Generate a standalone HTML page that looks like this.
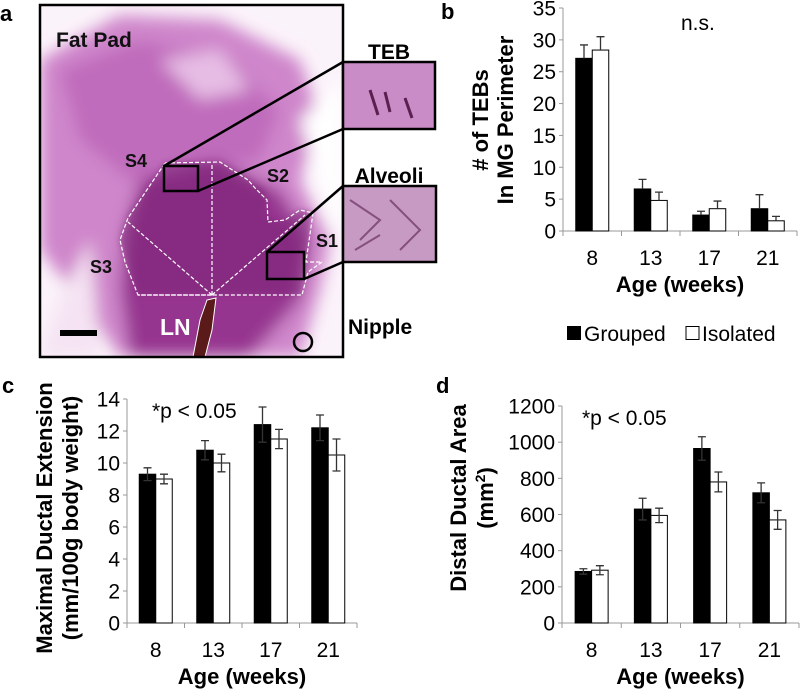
<!DOCTYPE html>
<html><head><meta charset="utf-8"><style>
body{margin:0;background:#fff;width:800px;height:691px;overflow:hidden}
svg{font-family:"Liberation Sans",Arial,sans-serif}
</style></head><body>
<svg id="fig" width="800" height="691" viewBox="0 0 800 691">
<defs>
<filter id="blur" x="-20%" y="-20%" width="140%" height="140%"><feGaussianBlur stdDeviation="8"/></filter>
<filter id="blur2"><feGaussianBlur stdDeviation="3"/></filter>
<clipPath id="clipA"><rect x="40" y="5" width="303" height="352"/></clipPath>
</defs>
<g>
<text x="0" y="21" font-size="22" font-weight="bold">a</text>
<g clip-path="url(#clipA)">
<rect x="40" y="5" width="303" height="352" fill="#fbf3fa"/>
<g filter="url(#blur)">
<path d="M40,60 L120,15 L220,20 L300,60 L320,120 L300,180 L330,240 L320,290 L300,357 L120,357 L80,300 L40,250 Z" fill="#cf86cb"/>
<path d="M60,70 L140,40 L230,60 L280,110 L260,160 L200,170 L130,180 L80,140 Z" fill="#c06cbc"/>
<path d="M140,180 L215,160 L280,190 L310,240 L300,300 L250,357 L130,357 L120,290 L125,230 Z" fill="#963590"/>
<path d="M60,300 L90,240 L100,357 L40,357Z" fill="#f5e3f3"/>
<path d="M300,120 L343,80 L343,240 L325,200Z" fill="#ffffff"/>
<path d="M160,60 L220,50 L250,90 L200,100Z" fill="#e6bce4"/>
</g>
<path d="M165,163 L220,162 L250,180 L265,190 L267,216 L280,223 L300,210 L312,212 L305,262 L300,295 L138,295 L120,240 L128,215 Z" fill="#7a2275" opacity="0.5" filter="url(#blur2)"/>
<path d="M165,163 L220,162 L248,180 L255,188 L267,200 L268,222 L285,220 L300,210 L313,213 L306,262 L322,262 L308,272 L302,295 L138,295 L125,262 L120,240 L128,218 Z" fill="none" stroke="#fff" stroke-width="1.2" stroke-dasharray="4,2"/>
<path d="M212,295 L212,163 M212,295 L128,222 M212,295 L305,215 M212,295 L138,295" fill="none" stroke="#fff" stroke-width="1.2" stroke-dasharray="4,2"/>
<path d="M207,300 L216,298 L212,330 L205,357 L193,357 L200,320 Z" fill="#5a1a1a" stroke="#fff" stroke-width="1"/>
</g>
<rect x="40" y="5" width="303" height="352" fill="none" stroke="#000" stroke-width="2.5"/>
<text x="56" y="47" font-size="21" font-weight="bold" fill="#111">Fat Pad</text>
<text x="125" y="167" font-size="18" font-weight="bold" fill="#111">S4</text>
<text x="267" y="182" font-size="18" font-weight="bold" fill="#111">S2</text>
<text x="90" y="273" font-size="18" font-weight="bold" fill="#111">S3</text>
<text x="316" y="247" font-size="18" font-weight="bold" fill="#111">S1</text>
<text x="160" y="335" font-size="23" font-weight="bold" fill="#fff">LN</text>
<rect x="60" y="330" width="37" height="6" fill="#000"/>
<circle cx="303" cy="342" r="9" fill="none" stroke="#000" stroke-width="2.5"/>
<rect x="164" y="166" width="34" height="25" fill="none" stroke="#000" stroke-width="2.5"/>
<rect x="267" y="252" width="37" height="27" fill="none" stroke="#000" stroke-width="2.5"/>
<line x1="164" y1="166" x2="343" y2="62" stroke="#000" stroke-width="2.5"/>
<line x1="198" y1="191" x2="343" y2="129" stroke="#000" stroke-width="2.5"/>
<line x1="267" y1="252" x2="343" y2="186" stroke="#000" stroke-width="2.5"/>
<line x1="304" y1="279" x2="343" y2="262" stroke="#000" stroke-width="2.5"/>
<rect x="343" y="62" width="92" height="67" fill="#c98cc6" stroke="#000" stroke-width="2.5"/>
<path d="M370,90 L378,115 M385,92 L390,112 M405,98 L412,118" stroke="#5a2050" stroke-width="3"/>
<rect x="343" y="186" width="93" height="76" fill="#c79ac4" stroke="#000" stroke-width="2.5"/>
<path d="M350,200 L380,220 L360,240 M390,200 L420,230 L400,250 M355,250 L380,235" stroke="#6a3060" stroke-width="2" fill="none" opacity="0.7"/>
<text x="389" y="59" text-anchor="middle" font-size="21" font-weight="bold">TEB</text>
<text x="389" y="183" text-anchor="middle" font-size="21" font-weight="bold">Alveoli</text>
<text x="348" y="334" font-size="21" font-weight="bold">Nipple</text>
</g>
<g id="chartB"></g>
<g id="chartC"></g>
<g id="chartD"></g>
</svg>
<script>
const categories = ["8","13","17","21"];
const bGrouped = [27.1,6.6,2.5,3.5];
const bGroupedErr = [2.1,1.5,0.6,2.2];
const bIsolated = [28.4,4.8,3.5,1.6];
const bIsolatedErr = [2.1,1.3,1.2,0.7];
const bTicks = [0,5,10,15,20,25,30,35];
const cGrouped = [9.3,10.8,12.4,12.2];
const cGroupedErr = [0.4,0.6,1.1,0.8];
const cIsolated = [9.0,10.0,11.5,10.5];
const cIsolatedErr = [0.3,0.55,0.6,1.0];
const cTicks = [0,2,4,6,8,10,12,14];
const dGrouped = [285,630,965,720];
const dGroupedErr = [15,60,65,55];
const dIsolated = [292,595,780,570];
const dIsolatedErr = [25,40,55,52];
const dTicks = [0,200,400,600,800,1000,1200];

const NS="http://www.w3.org/2000/svg";
function mk(parent,tag,attrs,text){const e=document.createElementNS(NS,tag);for(const k in attrs)e.setAttribute(k,attrs[k]);if(text!==undefined)e.textContent=text;parent.appendChild(e);return e;}

function chart(id,o){
  const g=document.getElementById(id);
  const ys=v=>o.y0-(v/o.max)*(o.y0-o.yTop);
  const cw=(o.xEnd-o.ax)/categories.length;
  const xc=i=>o.ax+cw*(i+0.5);
  mk(g,"line",{x1:o.ax,y1:o.yTop,x2:o.ax,y2:o.y0,stroke:"#999","stroke-width":1});
  mk(g,"line",{x1:o.ax,y1:o.y0,x2:o.xEnd,y2:o.y0,stroke:"#999","stroke-width":1});
  o.ticks.forEach(t=>{
    mk(g,"line",{x1:o.ax-4,y1:ys(t),x2:o.ax,y2:ys(t),stroke:"#999"});
    const tl=mk(g,"text",{x:o.ax-7,y:ys(t)+7.5,"text-anchor":"end","font-size":21},String(t));
    
    
  });
  for(let i=0;i<=categories.length;i++) mk(g,"line",{x1:o.ax+cw*i,y1:o.y0,x2:o.ax+cw*i,y2:o.y0+5,stroke:"#999"});
  categories.forEach((c,i)=>{
    const xl=mk(g,"text",{x:xc(i),y:o.y0+34,"text-anchor":"middle","font-size":21},c);
    
    
    [[o.g,o.ge,"#000",-1],[o.i,o.ie,"#fff",0]].forEach(([vals,errs,fill,off],k)=>{
      const v=vals[i],x=xc(i)+off*o.bw;
      const r=mk(g,"rect",{x:x,y:ys(v),width:o.bw,height:o.y0-ys(v),fill:fill,stroke:"#000","stroke-width":1});
      
      
      const ex=x+o.bw/2, lo=o.onlyUp?v:v-errs[i];
      const el=mk(g,"path",{d:`M${ex},${ys(lo)} L${ex},${ys(v+errs[i])} M${ex-4},${ys(v+errs[i])} L${ex+4},${ys(v+errs[i])}`+(o.onlyUp?"":` M${ex-4},${ys(lo)} L${ex+4},${ys(lo)}`),stroke:"#333","stroke-width":1.3,fill:"none"});
      
      
    });
  });
  const at=mk(g,"text",{x:(o.ax+o.xEnd)/2,y:o.y0+61,"text-anchor":"middle","font-size":22,"font-weight":"bold"},"Age (weeks)");
  
  
  o.ytitle.forEach((t,k)=>{
    const yt=mk(g,"text",{x:o.ytx[k],y:o.ytcy,"text-anchor":"middle","font-size":22,"font-weight":"bold",transform:`rotate(-90 ${o.ytx[k]} ${o.ytcy})`});
    yt.innerHTML=t;
    
    
  });
  const pl=mk(g,"text",{x:o.lx,y:o.ly,"font-size":22,"font-weight":"bold"},o.label);
  
  
  const an=mk(g,"text",{x:o.anx,y:o.any,"font-size":21},o.ann);
  
  
}
chart("chartB",{ax:563,y0:231,yTop:8,max:35,xEnd:797,bw:16.5,ticks:bTicks,g:bGrouped,ge:bGroupedErr,i:bIsolated,ie:bIsolatedErr,onlyUp:true,
  ytitle:["# of TEBs","In MG Perimeter"],ytx:[488,513],ytcy:120,label:"b",lx:441,ly:19,ann:"n.s.",anx:681,any:30});
chart("chartC",{ax:127,y0:623,yTop:399,max:14,xEnd:357,bw:16.5,ticks:cTicks,g:cGrouped,ge:cGroupedErr,i:cIsolated,ie:cIsolatedErr,
  ytitle:["Maximal Ductal Extension","(mm/100g body weight)"],ytx:[52,78],ytcy:518,label:"c",lx:2,ly:393,ann:"*p < 0.05",anx:152,any:418});
chart("chartD",{ax:562,y0:623,yTop:406,max:1200,xEnd:799,bw:16.5,ticks:dTicks,g:dGrouped,ge:dGroupedErr,i:dIsolated,ie:dIsolatedErr,
  ytitle:["Distal Ductal Area","(mm<tspan font-size='14' dy='-8'>2</tspan><tspan dy='8'>)</tspan>"],ytx:[466,493],ytcy:498,label:"d",lx:436,ly:393,ann:"*p < 0.05",anx:582,any:425});
const svg=document.getElementById("fig");
const lg=mk(svg,"g",{});


mk(lg,"rect",{x:567,y:326,width:14,height:14,fill:"#000"});
const l1=mk(lg,"text",{x:584,y:341,"font-size":21},"Grouped");


mk(lg,"rect",{x:686,y:326.5,width:13,height:13,fill:"#fff",stroke:"#000"});
const l2=mk(lg,"text",{x:702,y:341,"font-size":21},"Isolated");


</script>
</body></html>
